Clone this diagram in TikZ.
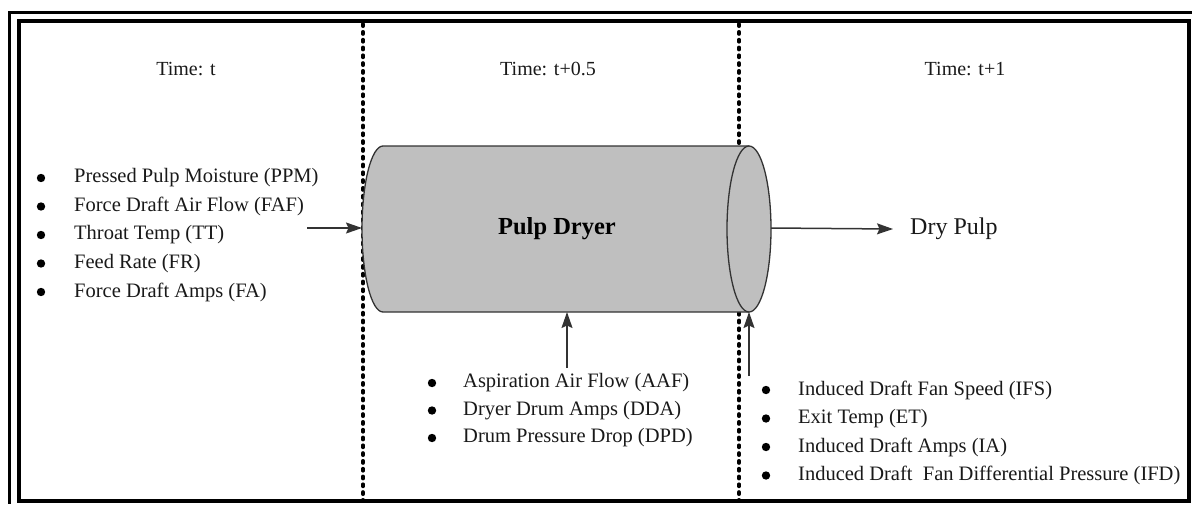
\documentclass[tikz,border=0pt]{standalone}
\usepackage{fontspec}
\setmainfont{Liberation Serif}
\usetikzlibrary{arrows.meta}

\begin{document}
\begin{tikzpicture}[x=1pt,y=-1pt,
  frameline/.style={black},
  timeline/.style={line width=3.6pt,line cap=round,dash pattern=on 2.2pt off 5.6pt,black},
  drum/.style={fill=black!25,draw=black!80,line width=1.3pt},
  flow/.style={draw=black!80,line width=1.5pt,-{Stealth[length=16pt,width=11pt,inset=2.5pt]}},
  label/.style={inner sep=0pt,font=\fontsize{20.5}{24}\selectfont,text=black!90},
  timelabel/.style={inner sep=0pt,font=\fontsize{20}{24}\selectfont,text=black!90},
  dot/.style={fill=black}
]
\useasboundingbox (0,0) rectangle (1192,504);

% double border
\draw[frameline,line width=3pt] (1192,12) -- (9,12) -- (9,504);
\draw[frameline,line width=3.6pt] (19,21) rectangle (1189,501);

% separators between the time steps
\draw[timeline] (363,24) -- (363,500);
\draw[timeline] (739,24) -- (739,500);

% time headings
\node[timelabel] (tA) at (186,69) {Time: t};
\node[timelabel] (tB) at (548,69) {Time: t+0.5};
\node[timelabel] (tC) at (965,69) {Time: t+1};

% drum body
\fill[black!25] (749,146) -- (383,146)
  .. controls (371.4,146) and (362,183.16) .. (362,229)
  .. controls (362,274.84) and (371.4,312) .. (383,312)
  -- (749,312) -- cycle;
\draw[draw=black!80,line width=1.3pt] (749,146) -- (383,146)
  .. controls (371.4,146) and (362,183.16) .. (362,229)
  .. controls (362,274.84) and (371.4,312) .. (383,312)
  -- (749,312);
% drum end
\draw[drum] (749,229) ellipse [x radius=22pt, y radius=83pt];

\node[inner sep=0pt,font=\bfseries\fontsize{24.5}{28}\selectfont] (dryer) at (557,229) {Pulp Dryer};

% connection points on the drum
\coordinate (inL) at (362,228);
\coordinate (outR) at (771,228);
\coordinate (botA) at (567,312);
\coordinate (botB) at (749,312);
\coordinate (srcL) at (307,228);
\coordinate (srcA) at (567,368);
\coordinate (srcB) at (749,376);

\node[inner sep=0pt,anchor=west,font=\fontsize{24}{28}\selectfont,text=black!90] (dry) at (910,229) {Dry Pulp};

% flows
\draw[flow] (srcL) -- (inL);
\draw[flow] (outR) -- (dry.west -| 893,0);
\draw[flow] (srcA) -- (botA);
\draw[flow] (srcB) -- (botB);

% inputs at time t
\foreach \y/\n/\t in {178/l1/Pressed Pulp Moisture (PPM),
                      206.5/l2/Force Draft Air Flow (FAF),
                      235/l3/Throat Temp (TT),
                      263.5/l4/Feed Rate (FR),
                      292/l5/Force Draft Amps (FA)}{
  \fill[dot] (41,\y) circle (4.2pt);
  \node[label,anchor=west] (\n) at (74,\y) {\t};
}

% inputs at time t+0.5
\foreach \y/\n/\t in {383/m1/Aspiration Air Flow (AAF),
                      410.5/m2/Dryer Drum Amps (DDA),
                      438/m3/Drum Pressure Drop (DPD)}{
  \fill[dot] (432,\y) circle (4.2pt);
  \node[label,anchor=west] (\n) at (463,\y) {\t};
}

% inputs at time t+1
\foreach \y/\n/\t in {390/r1/Induced Draft Fan Speed (IFS),
                      418.5/r2/Exit Temp (ET),
                      447/r3/Induced Draft Amps (IA),
                      475.5/r4/Induced Draft\ \ Fan Differential Pressure (IFD)}{
  \fill[dot] (766,\y) circle (4.2pt);
  \node[label,anchor=west] (\n) at (798,\y) {\t};
}
\end{tikzpicture}
\end{document}
